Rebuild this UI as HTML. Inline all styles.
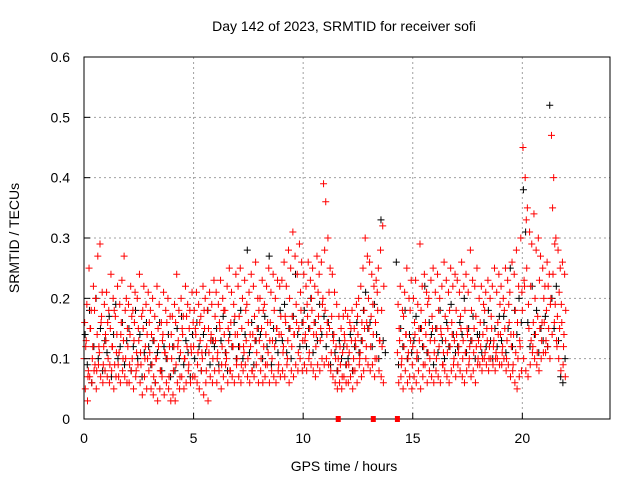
<!DOCTYPE html>
<html><head><meta charset="utf-8"><style>
body{margin:0;background:#fff;}
svg{display:block;font-family:"Liberation Sans",sans-serif;}
</style></head><body>
<svg id="chart" width="640" height="480">
<rect width="640" height="480" fill="#fff"/>
<text x="344" y="31" text-anchor="middle" font-size="14">Day 142 of 2023, SRMTID for receiver sofi</text>
<text x="344" y="471" text-anchor="middle" font-size="14">GPS time / hours</text>
<text transform="translate(19,238) rotate(-90)" text-anchor="middle" font-size="14">SRMTID / TECUs</text>
<g id="grid"></g><g id="black"></g><g id="red"></g><g id="axes"></g>
</svg>
<script>
const times=[0.0,0.1,0.2,0.3,0.4,0.5,0.6,0.7,0.8,0.9,1.0,1.1,1.2,1.3,1.4,1.5,1.6,1.7,1.8,1.9,2.0,2.1,2.2,2.3,2.4,2.5,2.6,2.7,2.8,2.9,3.0,3.1,3.2,3.3,3.4,3.5,3.6,3.7,3.8,3.9,4.0,4.1,4.2,4.3,4.4,4.5,4.6,4.7,4.8,4.9,5.0,5.1,5.2,5.3,5.4,5.5,5.6,5.7,5.8,5.9,6.0,6.1,6.2,6.3,6.4,6.5,6.6,6.7,6.8,6.9,7.0,7.1,7.2,7.3,7.4,7.5,7.6,7.7,7.8,7.9,8.0,8.1,8.2,8.3,8.4,8.5,8.6,8.7,8.8,8.9,9.0,9.1,9.2,9.3,9.4,9.5,9.6,9.7,9.8,9.9,10.0,10.1,10.2,10.3,10.4,10.5,10.6,10.7,10.8,10.9,11.0,11.1,11.2,11.3,11.4,11.5,11.6,11.7,11.8,11.9,12.0,12.1,12.2,12.3,12.4,12.5,12.6,12.7,12.8,12.9,13.0,13.1,13.2,13.3,13.4,13.5,13.6,13.7,13.8,13.9,14.0,14.1,14.2,14.3,14.4,14.5,14.6,14.7,14.8,14.9,15.0,15.1,15.2,15.3,15.4,15.5,15.6,15.7,15.8,15.9,16.0,16.1,16.2,16.3,16.4,16.5,16.6,16.7,16.8,16.9,17.0,17.1,17.2,17.3,17.4,17.5,17.6,17.7,17.8,17.9,18.0,18.1,18.2,18.3,18.4,18.5,18.6,18.7,18.8,18.9,19.0,19.1,19.2,19.3,19.4,19.5,19.6,19.7,19.8,19.9,20.0,20.1,20.2,20.3,20.4,20.5,20.6,20.7,20.8,20.9,21.0,21.1,21.2,21.3,21.4,21.5,21.6,21.7,21.8,21.9];
const redA=[.10,.13,.08,.15,.12,.09,.14,.11,.17,.12, .13,.10,.15,.12,.09,.14,.11,.16,.13,.10, .12,.14,.10,.16,.11,.13,.09,.15,.12,.10, .11,.09,.13,.10,.12,.08,.14,.11,.10,.12, .10,.12,.09,.13,.11,.14,.10,.12,.15,.11, .12,.14,.11,.13,.10,.15,.12,.11,.14,.13, .13,.11,.15,.12,.14,.10,.13,.16,.12,.14, .14,.12,.15,.11,.13,.16,.12,.14,.13,.15, .13,.15,.12,.14,.11,.16,.13,.12,.15,.14, .14,.12,.16,.13,.15,.17,.14,.16,.15,.18, .16,.14,.17,.15,.18,.16,.14,.17,.15,.20, .18,.16,.15,.17,.14,.12,.10,.09,.11,.13, .12,.11,.13,.10,.12,.14,.11,.13,.15,.16, .15,.17,.14,.16,.18,.13,.12,null,null,null, null,null,null,.11,.13,.10,.12,.14,.11,.13, .12,.14,.11,.13,.15,.12,.14,.11,.13,.15, .13,.15,.12,.14,.11,.13,.15,.12,.14,.13, .14,.12,.15,.13,.11,.14,.12,.13,.15,.12, .13,.12,.14,.11,.13,.12,.15,.13,.11,.14, .14,.12,.15,.13,.16,.12,.14,.11,.10,.12, .18,.22,.25,.15,.13,.16,.14,.17,.15,.16, .16,.18,.15,.20,.24,.19,.17,.15,.16,.14];
const redB=[.16,.19,.25,.18,.22,.20,.27,.29,.21,.19, .21,.18,.24,.20,.17,.22,.19,.23,.27,.20, .19,.22,.18,.21,.20,.24,.17,.22,.19,.21, .18,.20,.17,.22,.19,.16,.21,.18,.20,.17, .17,.19,.24,.18,.20,.17,.22,.19,.18,.21, .18,.21,.19,.17,.22,.20,.18,.21,.19,.23, .21,.19,.23,.20,.18,.22,.25,.21,.19,.24, .22,.25,.20,.23,.19,.21,.24,.22,.26,.20, .20,.23,.19,.22,.25,.21,.24,.20,.23,.22, .23,.26,.22,.28,.25,.31,.27,.24,.29,.26, .24,.22,.26,.23,.25,.22,.27,.24,.26,.39, .36,.30,.25,.24,.21,.19,.17,.15,.17,.18, .17,.16,.18,.15,.19,.20,.22,.25,.30,.27, .26,.24,.22,.23,.25,.28,.32,null,null,null, null,null,null,.19,.22,.18,.21,.25,.20,.23, .20,.23,.19,.29,.22,.24,.21,.20,.23,.25, .21,.24,.20,.22,.26,.23,.21,.25,.22,.24, .23,.21,.26,.22,.24,.21,.28,.23,.22,.25, .20,.22,.19,.21,.23,.20,.22,.25,.21,.24, .22,.20,.25,.23,.21,.26,.24,.28,.22,.30, .45,.40,.35,.31,.29,.34,.28,.30,.27,.25, .22,.26,.24,.47,.40,.30,.28,.25,.26,.24];
const redC=[.05,.03,.07,.06,.08,.05,.09,.07,.06,.08, .07,.06,.08,.05,.07,.09,.06,.08,.07,.06, .06,.08,.05,.07,.09,.06,.04,.07,.05,.08, .05,.04,.06,.03,.05,.07,.04,.06,.05,.03, .04,.03,.06,.05,.07,.05,.06,.08,.06,.07, .07,.06,.05,.08,.04,.06,.03,.07,.06,.08, .06,.08,.05,.07,.09,.06,.08,.07,.06,.09, .07,.06,.08,.09,.07,.06,.08,.07,.09,.06, .08,.06,.07,.09,.06,.08,.07,.06,.08,.07, .08,.07,.09,.06,.08,.07,.09,.08,.10,.08, .09,.08,.10,.09,.08,.07,.09,.08,.10,.09, .10,.09,.08,.07,.06,.05,.06,.05,.07,.06, .06,.07,.05,.08,.06,.09,.07,.08,.10,.09, .08,.09,.07,.10,.08,.07,.06,null,null,null, null,null,null,.06,.07,.05,.08,.06,.07,.05, .07,.06,.08,.05,.07,.09,.06,.08,.07,.06, .08,.07,.06,.09,.08,.07,.06,.08,.09,.07, .09,.08,.07,.06,.08,.09,.07,.08,.06,.09, .09,.08,.10,.09,.08,.10,.09,.08,.10,.09, .09,.10,.08,.09,.07,.08,.06,.05,.07,.08, .10,.08,.07,.09,.11,.10,.09,.08,.10,.11, .11,.12,.10,.14,.16,.13,.10,.08,.09,.07];
const redD=[.12,.07,.15,.10,.18,.08,.12,.16,.09,.14, .16,.09,.12,.18,.11,.07,.14,.10,.18,.15, .09,.17,.13,.08,.15,.11,.18,.10,.14,.16, .14,.07,.10,.15,.08,.13,.11,.16,.07,.14, .08,.16,.12,.07,.15,.10,.17,.09,.12,.16, .15,.09,.16,.11,.18,.08,.15,.13,.10,.17, .10,.16,.09,.18,.11,.15,.08,.12,.17,.10, .17,.09,.12,.18,.10,.14,.08,.17,.11,.18, .10,.18,.09,.16,.13,.10,.18,.15,.09,.17, .11,.17,.10,.20,.12,.14,.19,.11,.21,.13, .13,.19,.11,.20,.14,.12,.21,.13,.19,.28, .14,.21,.11,.13,.10,.08,.12,.07,.14,.09, .09,.15,.08,.13,.17,.10,.16,.18,.12,.20, .12,.19,.10,.21,.13,.18,.22,null,null,null, null,null,null,.15,.09,.17,.14,.10,.18,.09, .16,.10,.15,.18,.09,.16,.19,.10,.17,.11, .10,.18,.15,.09,.17,.11,.18,.16,.10,.18, .11,.17,.10,.18,.15,.10,.18,.11,.17,.10, .16,.10,.18,.15,.10,.17,.12,.10,.16,.19, .11,.18,.10,.19,.14,.09,.18,.16,.13,.21, .23,.33,.19,.22,.12,.20,.11,.23,.13,.20, .13,.22,.19,.35,.29,.12,.21,.19,.12,.18];
const blackV=[.14,.09,.18,.06,.12,.20,.10,.15,.08,.13, .11,.17,.07,.14,.19,.10,.12,.16,.09,.13, .15,.08,.12,.18,.10,.14,.07,.11,.16,.12, .09,.13,.06,.11,.16,.08,.12,.10,.14,.07, .12,.08,.15,.10,.17,.09,.13,.11,.07,.14, .10,.16,.12,.08,.14,.11,.18,.09,.13,.12, .15,.09,.13,.17,.11,.08,.14,.12,.16,.10, .12,.18,.10,.14,.28,.11,.16,.09,.13,.15, .14,.10,.17,.12,.27,.09,.15,.13,.11,.18, .13,.19,.11,.15,.10,.17,.24,.14,.12,.16, .18,.12,.15,.20,.11,.16,.13,.19,.14,.17, .12,.16,.09,.14,.11,.08,.13,.10,.12,.09, .10,.14,.08,.12,.16,.11,.13,.18,.21,.15, .16,.12,.19,.14,.10,.33,.13,.11,null,null, null,null,.26,.09,.15,.12,.18,.10,.14,.11, .13,.17,.10,.15,.12,.22,.11,.16,.14,.09, .15,.11,.18,.13,.10,.16,.12,.19,.14,.11, .12,.16,.14,.20,.11,.15,.13,.17,.10,.14, .14,.11,.16,.12,.18,.13,.10,.15,.12,.17, .13,.17,.11,.15,.25,.12,.18,.14,.20,.16, .38,.31,.16,.12,.22,.14,.18,.11,.15,.13, .17,.12,.52,.20,.15,.22,.13,.07,.06,.10];
const gapMarks=[11.6,13.2,14.3];
const xTicks=[0,5,10,15,20];
const yTicks=[0,0.1,0.2,0.3,0.4,0.5,0.6];
const yTickLabels=["0","0.1","0.2","0.3","0.4","0.5","0.6"];

const NS="http://www.w3.org/2000/svg";
const L=84,R=610,T=57,B=419;
const X=t=>L+(t/24)*(R-L);
const Y=v=>B-(v/0.6)*(B-T);
function mk(tag,attrs,parent){const e=document.createElementNS(NS,tag);for(const k in attrs)e.setAttribute(k,attrs[k]);parent.appendChild(e);return e;}
const grid=document.getElementById('grid'),axes=document.getElementById('axes');
xTicks.forEach((t,i)=>{
  if(t>0){const g=mk('line',{x1:X(t),x2:X(t),y1:T,y2:B,stroke:'#a0a0a0','stroke-dasharray':'2,3'},grid);
  
  }
  const tk=mk('line',{x1:X(t),x2:X(t),y1:B,y2:B-6,stroke:'#000'},axes);
  
  
  const lb=mk('text',{x:X(t),y:B+24,'text-anchor':'middle','font-size':'14'},axes);lb.textContent=String(t);
  
  
});
yTicks.forEach((v,i)=>{
  if(v>0&&v<0.6){const g=mk('line',{x1:L,x2:R,y1:Y(v),y2:Y(v),stroke:'#a0a0a0','stroke-dasharray':'2,3'},grid);
  
  }
  const tk=mk('line',{x1:L,x2:L+6,y1:Y(v),y2:Y(v),stroke:'#000'},axes);
  
  
  const lb=mk('text',{x:L-14,y:Y(v)+5,'text-anchor':'end','font-size':'14'},axes);lb.textContent=yTickLabels[i];
  
  
});
const frame=mk('rect',{x:L,y:T,width:R-L,height:B-T,fill:'none',stroke:'#000'},axes);


gapMarks.forEach(t=>{
  const m=mk('rect',{x:X(t)-2.5,y:B-3,width:5,height:6,fill:'#f00'},axes);
  
  
});
function plus(g,t,v,color){
  if(v===null||v===undefined)return;
  const x=X(t),y=Y(v);
  const p=mk('path',{d:`M${x-3.5},${y}H${x+3.5}M${x},${y-3.5}V${y+3.5}`,stroke:color,'stroke-width':'1',fill:'none'},g);
  
  
}
const gb=document.getElementById('black'),gr=document.getElementById('red');
times.forEach((t,i)=>plus(gb,t+0.05,blackV[i],'#000'));
times.forEach((t,i)=>{plus(gr,t,redA[i],'#f00');plus(gr,t+0.03,redB[i],'#f00');plus(gr,t+0.06,redC[i],'#f00');plus(gr,t+0.08,redD[i],'#f00');});
</script>
</body></html>
